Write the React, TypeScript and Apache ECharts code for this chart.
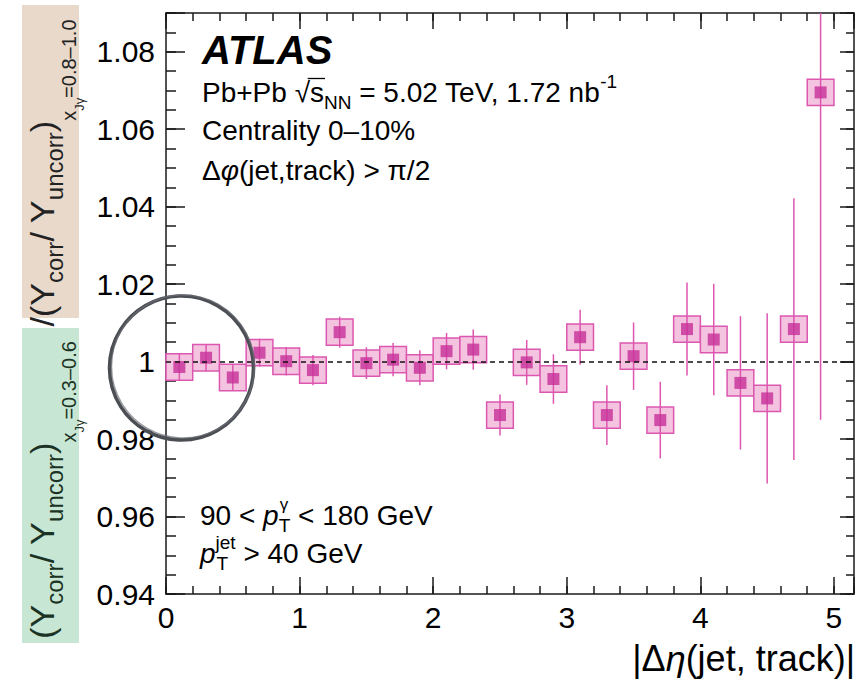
import React, { useEffect, useRef } from "react";
import * as echarts from "echarts";

// ---------------- data ----------------
const etaBinCenters = [0.1, 0.3, 0.5, 0.7, 0.9, 1.1, 1.3, 1.5, 1.7, 1.9, 2.1, 2.3, 2.5, 2.7, 2.9, 3.1, 3.3, 3.5, 3.7, 3.9, 4.1, 4.3, 4.5, 4.7, 4.9];
const binHalfWidth = 0.1;
const ratioValues = [0.9986, 1.001, 0.9959, 1.0023, 1.0001, 0.9978, 1.0076, 0.9996, 1.0005, 0.9984, 1.0027, 1.0031, 0.9862, 0.9998, 0.9955, 1.0063, 0.9862, 1.0014, 0.9849, 1.0084, 1.0057, 0.9945, 0.9905, 1.0084, 1.0695];
const statErrors = [0.0034, 0.0035, 0.0035, 0.0036, 0.0037, 0.0039, 0.004, 0.0041, 0.0043, 0.0045, 0.0047, 0.0052, 0.0053, 0.0058, 0.0064, 0.0071, 0.0077, 0.0087, 0.0099, 0.012, 0.0144, 0.0172, 0.022, 0.0338, 0.0845];
const sysErrors = [0.0034, 0.0034, 0.0034, 0.0034, 0.0034, 0.0034, 0.0034, 0.0034, 0.0034, 0.0034, 0.0034, 0.0034, 0.0034, 0.0034, 0.0034, 0.0034, 0.0034, 0.0034, 0.0034, 0.0034, 0.0034, 0.0034, 0.0034, 0.0034, 0.0034];
const xTickLabels = ["0", "1", "2", "3", "4", "5"];
const yTickLabels = ["0.94", "0.96", "0.98", "1", "1.02", "1.04", "1.06", "1.08"];

const X_MIN = 0;
const X_MAX = 5.15;
const Y_MIN = 0.94;
const Y_MAX = 1.09;
const Y_STEP = 0.02;

const FONT = '"Liberation Sans", Arial, Helvetica, sans-serif';
const AXIS_COLOR = "#1a1a1a";
const BOX_FILL = "#f4c3df";
const BOX_STROKE = "#dc58b0";
const ERR_COLOR = "#dd56b0";
const MARK_COLOR = "#c72f98";

function measure(text: string, font: string): number {
  const ctx = document.createElement("canvas").getContext("2d");
  if (!ctx) return text.length * 14;
  ctx.font = font;
  return ctx.measureText(text).width;
}

function xFmt(v: number) {
  const i = Math.round(v);
  return Math.abs(v - i) < 1e-6 && i >= 0 && i < xTickLabels.length ? xTickLabels[i] : "";
}
function yFmt(v: number) {
  const i = Math.round((v - Y_MIN) / Y_STEP);
  return Math.abs(v - (Y_MIN + i * Y_STEP)) < 1e-6 && i >= 0 && i < yTickLabels.length ? yTickLabels[i] : "";
}

function tickAxis(position: string, min: number, max: number, interval: number, len: number, showLine: boolean) {
  return {
    type: "value",
    position,
    min,
    max,
    interval,
    splitLine: { show: false },
    axisLabel: { show: false },
    axisLine: { show: showLine, onZero: false, lineStyle: { color: AXIS_COLOR, width: 1.5 } },
    axisTick: { show: true, inside: true, length: len, lineStyle: { color: AXIS_COLOR, width: 1.5 } },
  };
}

function buildOption() {
  const boxData = etaBinCenters.map((x, i) => [x, ratioValues[i], sysErrors[i]]);
  const errData = etaBinCenters.map((x, i) => [x, ratioValues[i], statErrors[i]]);
  const pts = etaBinCenters.map((x, i) => [x, ratioValues[i]]);

  const xMain: any = tickAxis("bottom", X_MIN, X_MAX, 1, 17, true);
  xMain.axisLabel = { show: true, margin: 8, fontSize: 30, fontFamily: FONT, color: "#000", formatter: xFmt };
  const yMain: any = tickAxis("left", Y_MIN, Y_MAX, Y_STEP, 19, true);
  yMain.axisLabel = { show: true, margin: 11, fontSize: 30, fontFamily: FONT, color: "#000", formatter: yFmt };

  const n28 = `normal 28px ${FONT}`;
  const i28 = `italic 28px ${FONT}`;

  const leftRich = (color: string) => ({
    m: { fontSize: 34, fontFamily: FONT, fill: color, lineHeight: 100 },
    a: { fontSize: 24, fontFamily: FONT, fill: color, lineHeight: 100, padding: [24, 0, 0, 0] },
    b: { fontSize: 20, fontFamily: FONT, fill: color, lineHeight: 100, padding: [54, 0, 0, 0] },
    c: { fontSize: 13, fontFamily: FONT, fill: color, lineHeight: 100, padding: [74, 0, 0, 0] },
  });
  const txtRich = {
    n: { fontSize: 28, fontFamily: FONT, fill: "#000", lineHeight: 60 },
    i: { fontSize: 28, fontFamily: FONT, fontStyle: "italic", fill: "#000", lineHeight: 60 },
    sb: { fontSize: 19, fontFamily: FONT, fill: "#000", lineHeight: 60, padding: [20, 0, 0, 0] },
    sp: { fontSize: 19, fontFamily: FONT, fill: "#000", lineHeight: 60, padding: [0, 0, 22, 0] },
  };

  const bx = 200;
  const by1 = 515;
  const by2 = 553;
  const xs1 = bx + measure("90 < ", n28) + measure("p", i28) + 1;
  const xs2 = bx + measure("p", i28) + 1;

  const sqX = 202 + measure("Pb+Pb ", n28);
  const sqW = measure("√", n28);
  const sW = measure("s", n28);

  const graphic: any[] = [
    { type: "rect", z: -10, shape: { x: 22, y: 5, width: 57, height: 313 }, style: { fill: "#e8d9ca" } },
    { type: "rect", z: -10, shape: { x: 22, y: 328, width: 57, height: 315 }, style: { fill: "#c7e6d3" } },
    {
      type: "text", x: 42, y: 173, rotation: Math.PI / 2, z: 10,
      style: { text: "{m|/(Y}{a|corr}{m|/ Y}{a|uncorr}{m|)}{b|x}{c|Jγ}{b|=0.8–1.0}", align: "center", verticalAlign: "middle", rich: leftRich("#222222") },
    },
    {
      type: "text", x: 42, y: 490, rotation: Math.PI / 2, z: 10,
      style: { text: "{m|(Y}{a|corr}{m|/ Y}{a|uncorr}{m|)}{b|x}{c|Jγ}{b|=0.3–0.6}", align: "center", verticalAlign: "middle", rich: leftRich("#1b3324") },
    },
    { type: "text", x: 202, y: 50, z: 10, style: { text: "ATLAS", fontSize: 40, fontWeight: "bold", fontStyle: "italic", fontFamily: FONT, fill: "#000", verticalAlign: "middle" } },
    { type: "text", x: 202, y: 92, z: 10, style: { text: "{n|Pb+Pb √s}{sb|NN}{n| = 5.02 TeV, 1.72 nb}{sp|-1}", verticalAlign: "middle", rich: txtRich } },
    { type: "line", z: 10, shape: { x1: sqX + sqW * 0.85, y1: 78.5, x2: sqX + sqW + sW + 1, y2: 78.5 }, style: { stroke: "#000", lineWidth: 1.3 } },
    { type: "text", x: 202, y: 130, z: 10, style: { text: "Centrality 0–10%", fontSize: 28, fontFamily: FONT, fill: "#000", verticalAlign: "middle" } },
    { type: "text", x: 202, y: 170, z: 10, style: { text: "{n|Δ}{i|φ}{n|(jet,track) > π/2}", verticalAlign: "middle", rich: txtRich } },
    { type: "text", x: bx, y: by1, z: 10, style: { text: "{n|90 < }{i|p}{sb|T}{n| < 180 GeV}", verticalAlign: "middle", rich: txtRich } },
    { type: "text", x: xs1, y: by1 - 11, z: 10, style: { text: "γ", fontSize: 17, fontFamily: FONT, fill: "#000", verticalAlign: "middle" } },
    { type: "text", x: bx, y: by2, z: 10, style: { text: "{i|p}{sp|jet}{n| > 40 GeV}", verticalAlign: "middle", rich: txtRich } },
    { type: "text", x: xs2, y: by2 + 10, z: 10, style: { text: "T", fontSize: 19, fontFamily: FONT, fill: "#000", verticalAlign: "middle" } },
    {
      type: "text", x: 855, y: 658, z: 10,
      style: {
        text: "{n||Δ}{i|η}{n|(jet, track)|}", align: "right", verticalAlign: "middle",
        rich: {
          n: { fontSize: 36, fontFamily: FONT, fill: "#000" },
          i: { fontSize: 36, fontFamily: FONT, fontStyle: "italic", fill: "#000" },
        },
      },
    },
    { type: "circle", z: 100, shape: { cx: 181.5, cy: 368, r: 72 }, style: { fill: "none", stroke: "#4b4e53", lineWidth: 3.6 } },
    { type: "circle", z: 100, shape: { cx: 183, cy: 366.5, r: 71.5 }, style: { fill: "none", stroke: "#6c6f76", lineWidth: 1.4, opacity: 0.7 } },
  ];

  return {
    animation: false,
    backgroundColor: "#ffffff",
    grid: { left: 166, right: 1, top: 13, bottom: 87, containLabel: false },
    xAxis: [
      xMain,
      tickAxis("bottom", X_MIN, X_MAX, 0.2, 8, false),
      tickAxis("top", X_MIN, X_MAX, 1, 16, true),
      tickAxis("top", X_MIN, X_MAX, 0.2, 8, false),
    ],
    yAxis: [
      yMain,
      tickAxis("left", Y_MIN, Y_MAX, 0.005, 10, false),
      tickAxis("right", Y_MIN, Y_MAX, Y_STEP, 14, true),
      tickAxis("right", Y_MIN, Y_MAX, 0.005, 8, false),
    ],
    series: [
      {
        type: "custom",
        xAxisIndex: 0,
        yAxisIndex: 0,
        z: 2,
        silent: true,
        data: boxData,
        renderItem: (params: any, api: any) => {
          const x = api.value(0);
          const y = api.value(1);
          const s = api.value(2);
          const p1 = api.coord([x - binHalfWidth, y + s]);
          const p2 = api.coord([x + binHalfWidth, y - s]);
          return {
            type: "rect",
            shape: { x: p1[0], y: p1[1], width: p2[0] - p1[0], height: p2[1] - p1[1] },
            style: { fill: BOX_FILL, stroke: BOX_STROKE, lineWidth: 1.5 },
          };
        },
      },
      {
        type: "custom",
        xAxisIndex: 0,
        yAxisIndex: 0,
        z: 3,
        silent: true,
        data: errData,
        renderItem: (params: any, api: any) => {
          const x = api.value(0);
          const y = api.value(1);
          const e = api.value(2);
          const lo = api.coord([x, Math.max(y - e, Y_MIN)]);
          const hi = api.coord([x, Math.min(y + e, Y_MAX)]);
          return {
            type: "line",
            shape: { x1: lo[0], y1: lo[1], x2: hi[0], y2: hi[1] },
            style: { stroke: ERR_COLOR, lineWidth: 1.5 },
          };
        },
      },
      {
        type: "scatter",
        xAxisIndex: 0,
        yAxisIndex: 0,
        z: 4,
        silent: true,
        data: pts,
        symbol: "rect",
        symbolSize: 12,
        itemStyle: { color: MARK_COLOR },
        markLine: {
          silent: true,
          symbol: ["none", "none"],
          label: { show: false },
          lineStyle: { type: [5, 4], color: "#111", width: 1.5 },
          data: [{ yAxis: 1 }],
        },
      },
    ],
    graphic,
  };
}

export default function App() {
  const ref = useRef<HTMLDivElement>(null);
  useEffect(() => {
    if (!ref.current) return;
    const chart = echarts.init(ref.current, null, { renderer: "svg", width: 857, height: 681 });
    chart.setOption(buildOption() as any);
    return () => chart.dispose();
  }, []);
  return (
    <div
      ref={ref}
      style={{ position: "fixed", left: 0, top: 0, width: 857, height: 681, background: "#fff" }}
    />
  );
}
